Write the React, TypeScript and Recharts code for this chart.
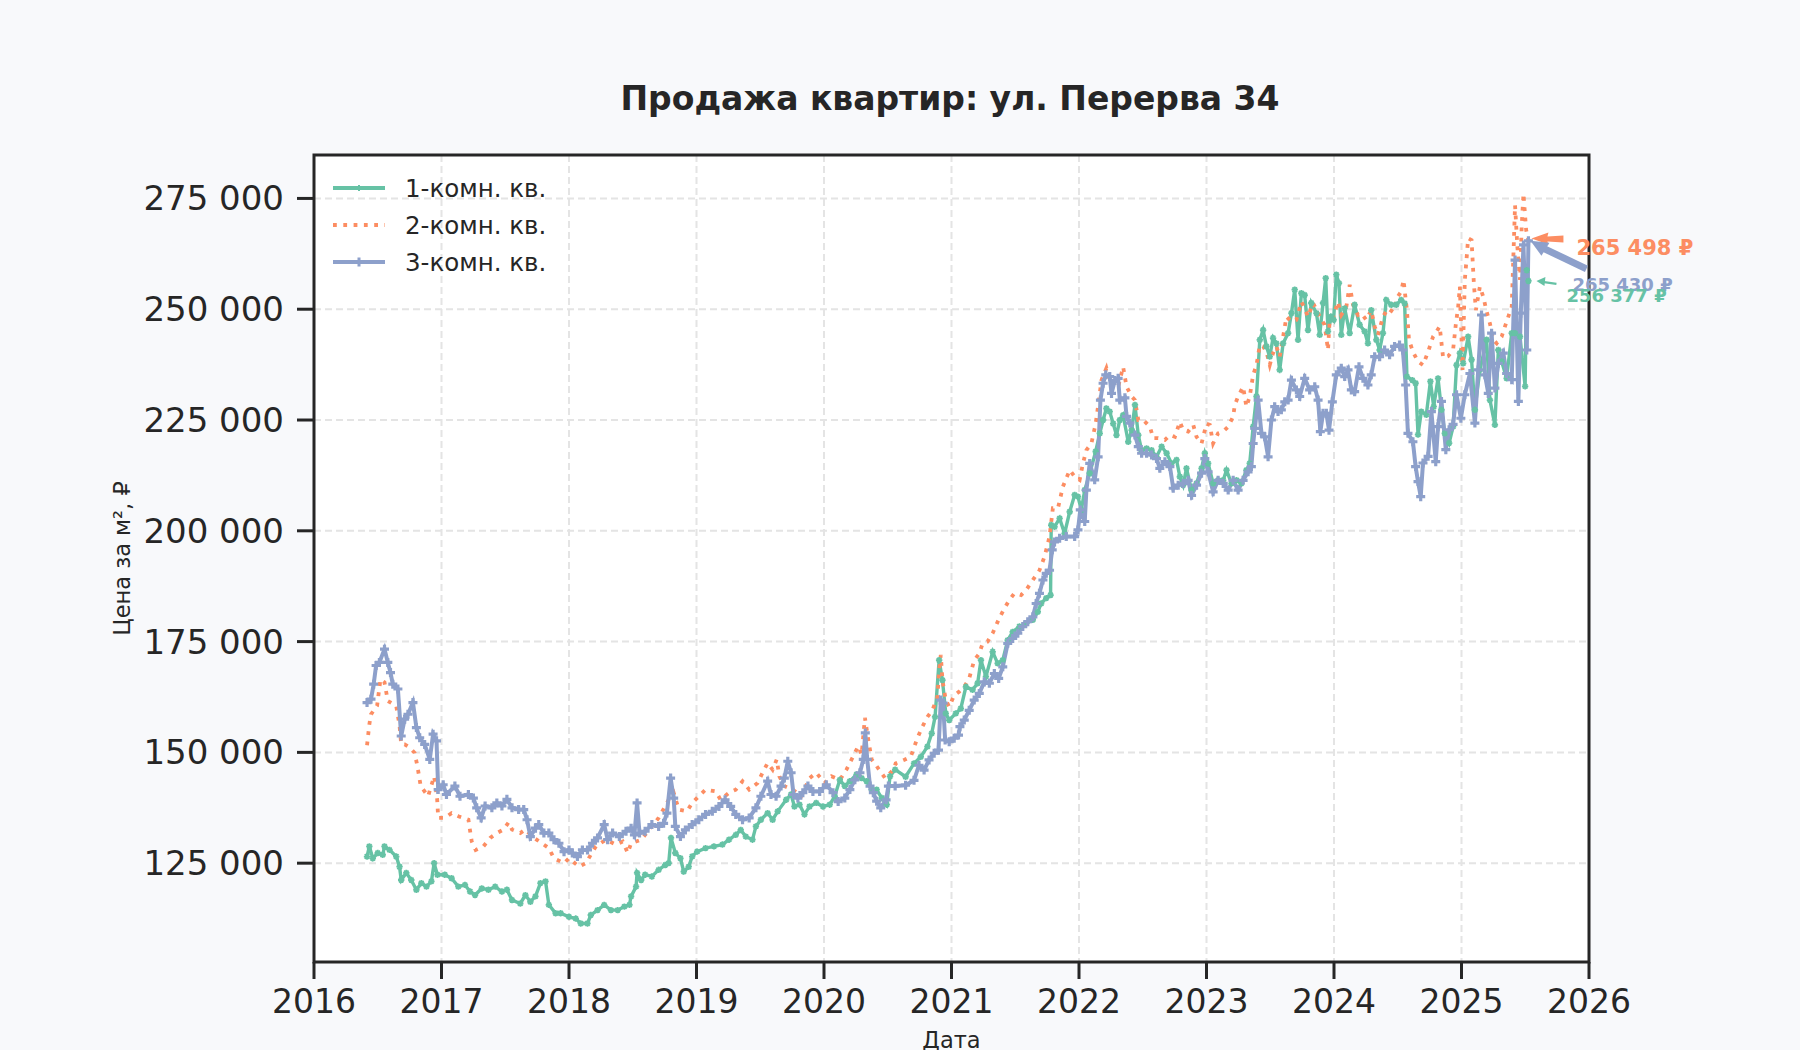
import React from 'react';
import { LineChart, Line, XAxis, YAxis, CartesianGrid, ReferenceArea, ReferenceDot } from 'recharts';

const chartTitle = 'Продажа квартир: ул. Перерва 34';
const xAxisTitle = 'Дата';
const yAxisTitle = 'Цена за м², ₽';
const seriesNames = ['1-комн. кв.', '2-комн. кв.', '3-комн. кв.'];
const seriesColors = ['#66c2a5', '#fc8d62', '#8da0cb'];
const yearTicks = [2016, 2017, 2018, 2019, 2020, 2021, 2022, 2023, 2024, 2025, 2026];
const priceTicks = [125000, 150000, 175000, 200000, 225000, 250000, 275000];
const xDomain = [2016, 2026];
const yDomain = [102700, 284800];

// 1-комн. кв.
const oneRoomDates = [
  2016.416, 2016.434, 2016.461, 2016.5, 2016.539, 2016.553, 2016.592, 2016.645, 2016.671, 2016.684,
  2016.724, 2016.763, 2016.803, 2016.842, 2016.882, 2016.921, 2016.942, 2016.968, 2017.026, 2017.079,
  2017.132, 2017.184, 2017.224, 2017.263, 2017.316, 2017.368, 2017.421, 2017.474, 2017.513, 2017.553,
  2017.618, 2017.658, 2017.697, 2017.737, 2017.776, 2017.816, 2017.842, 2017.895, 2017.934, 2018.0,
  2018.053, 2018.092, 2018.145, 2018.171, 2018.224, 2018.276, 2018.329, 2018.382, 2018.434, 2018.474,
  2018.487, 2018.526, 2018.534, 2018.566, 2018.597, 2018.65, 2018.703, 2018.755, 2018.782, 2018.8,
  2018.834, 2018.874, 2018.9, 2018.939, 2018.966, 2019.005, 2019.071, 2019.137, 2019.203, 2019.255,
  2019.308, 2019.347, 2019.387, 2019.439, 2019.466, 2019.505, 2019.558, 2019.597, 2019.637, 2019.703,
  2019.742, 2019.768, 2019.808, 2019.847, 2019.887, 2019.939, 2019.992, 2020.045, 2020.084, 2020.124,
  2020.163, 2020.203, 2020.255, 2020.295, 2020.334, 2020.374, 2020.413, 2020.453, 2020.492, 2020.518,
  2020.558, 2020.64, 2020.706, 2020.759, 2020.811, 2020.845, 2020.871, 2020.903, 2020.929, 2020.955,
  2020.982, 2021.034, 2021.073, 2021.113, 2021.165, 2021.205, 2021.231, 2021.27, 2021.323, 2021.362,
  2021.402, 2021.441, 2021.48, 2021.533, 2021.585, 2021.638, 2021.677, 2021.703, 2021.743, 2021.777,
  2021.782, 2021.808, 2021.848, 2021.887, 2021.927, 2021.966, 2021.992, 2022.018, 2022.045, 2022.084,
  2022.131, 2022.163, 2022.189, 2022.215, 2022.241, 2022.268, 2022.294, 2022.32, 2022.346, 2022.386,
  2022.413, 2022.439, 2022.465, 2022.491, 2022.53, 2022.569, 2022.608, 2022.648, 2022.687, 2022.726,
  2022.765, 2022.791, 2022.817, 2022.843, 2022.883, 2022.922, 2022.961, 2022.987, 2023.013, 2023.052,
  2023.091, 2023.131, 2023.157, 2023.196, 2023.235, 2023.274, 2023.313, 2023.339, 2023.366, 2023.392,
  2023.418, 2023.444, 2023.47, 2023.496, 2023.522, 2023.548, 2023.574, 2023.601, 2023.64, 2023.666,
  2023.692, 2023.718, 2023.744, 2023.77, 2023.796, 2023.822, 2023.862, 2023.888, 2023.914, 2023.935,
  2023.953, 2023.979, 2023.997, 2024.018, 2024.039, 2024.057, 2024.084, 2024.123, 2024.162, 2024.201,
  2024.24, 2024.266, 2024.292, 2024.332, 2024.358, 2024.384, 2024.41, 2024.449, 2024.488, 2024.527,
  2024.554, 2024.572, 2024.614, 2024.64, 2024.659, 2024.685, 2024.724, 2024.756, 2024.782, 2024.816,
  2024.843, 2024.869, 2024.903, 2024.934, 2024.961, 2024.987, 2025.013, 2025.052, 2025.079, 2025.105,
  2025.144, 2025.197, 2025.223, 2025.262, 2025.289, 2025.315, 2025.354, 2025.394, 2025.42, 2025.459,
  2025.499, 2025.512, 2025.525,
];
const oneRoomPrices = [
  126500, 128800, 126100, 127300, 126900, 128800, 128000, 126500, 124200, 121200,
  122800, 121200, 119000, 120500, 119700, 120900, 125000, 122400, 122400, 121600,
  119700, 120100, 118600, 117800, 119300, 119000, 119700, 118600, 119000, 116700,
  115900, 117800, 116300, 117500, 120500, 120900, 115600, 113700, 113700, 112900,
  112500, 111400, 111400, 113300, 114400, 115600, 114400, 114400, 115200, 115600,
  117500, 119700, 122800, 121200, 122400, 122000, 123500, 124600, 125000, 130700,
  127300, 126100, 123100, 124200, 126500, 127600, 128400, 128800, 129200, 130300,
  131400, 132500, 131000, 130300, 133300, 134800, 136300, 134800, 136700, 139300,
  140500, 137800, 138200, 136000, 137800, 138600, 137800, 138200, 140100, 143800,
  142400, 143500, 145000, 144200, 143500, 141600, 141600, 139700, 138200, 144600,
  146100, 144500, 147500, 149000, 151300, 154300, 158000, 170800, 166300, 158800,
  157300, 158800, 159900, 164800, 164100, 165600, 170800, 167100, 172700, 170100,
  170800, 175300, 177200, 178400, 179100, 179900, 181700, 183600, 184800, 185500,
  201300, 200900, 202800, 199400, 204300, 208100, 207700, 204700, 209200, 213000,
  217900, 222000, 225000, 227600, 226900, 224200, 221600, 225000, 226100, 220100,
  222700, 228400, 221600, 218200, 218600, 218200, 216700, 219000, 217500, 215200,
  216000, 212200, 210300, 214100, 209200, 210700, 214100, 217500, 215200, 210700,
  211400, 211400, 213700, 210700, 211400, 210700, 213700, 215200, 223500, 230300,
  243100, 245300, 241600, 239300, 243500, 242300, 236300, 242300, 244600, 249100,
  254400, 243100, 253600, 253200, 245300, 251400, 249100, 244200, 251400, 257000,
  245000, 248300, 247600, 257800, 255900, 244200, 250200, 244600, 251000, 246500,
  245000, 242300, 249800, 243100, 240800, 244600, 252100, 251000, 251000, 252100,
  251300, 234800, 234000, 233300, 221700, 226900, 226200, 233700, 228000, 234400,
  227300, 222000, 219800, 223500, 237400, 240100, 237800, 243800, 238600, 227300,
  236300, 243100, 229500, 223900, 240800, 238200, 234400, 244600, 244600, 243800,
  232600, 258800, 256377,
];

// 2-комн. кв.
const twoRoomDates = [
  2016.416, 2016.434, 2016.447, 2016.495, 2016.521, 2016.553, 2016.579, 2016.645, 2016.671, 2016.684,
  2016.711, 2016.75, 2016.789, 2016.811, 2016.837, 2016.895, 2016.942, 2016.966, 2016.974, 2017.026,
  2017.079, 2017.132, 2017.211, 2017.237, 2017.268, 2017.329, 2017.382, 2017.434, 2017.487, 2017.526,
  2017.553, 2017.618, 2017.658, 2017.711, 2017.842, 2017.882, 2017.961, 2018.0, 2018.079, 2018.132,
  2018.171, 2018.211, 2018.289, 2018.368, 2018.421, 2018.461, 2018.487, 2018.566, 2018.597, 2018.703,
  2018.782, 2018.821, 2018.861, 2018.926, 2018.966, 2019.018, 2019.071, 2019.15, 2019.189, 2019.255,
  2019.308, 2019.361, 2019.413, 2019.479, 2019.518, 2019.558, 2019.597, 2019.629, 2019.65, 2019.689,
  2019.755, 2019.821, 2019.887, 2019.939, 2020.005, 2020.058, 2020.124, 2020.176, 2020.229, 2020.268,
  2020.295, 2020.321, 2020.347, 2020.374, 2020.413, 2020.479, 2020.545, 2020.562, 2020.627, 2020.68,
  2020.732, 2020.772, 2020.811, 2020.85, 2020.89, 2020.903, 2020.916, 2020.929, 2020.955, 2020.982,
  2021.021, 2021.06, 2021.1, 2021.139, 2021.178, 2021.218, 2021.244, 2021.283, 2021.323, 2021.375,
  2021.415, 2021.454, 2021.493, 2021.546, 2021.585, 2021.638, 2021.69, 2021.73, 2021.769, 2021.795,
  2021.835, 2021.874, 2021.927, 2021.966, 2022.005, 2022.031, 2022.058, 2022.097, 2022.131, 2022.163,
  2022.176, 2022.215, 2022.255, 2022.307, 2022.346, 2022.373, 2022.413, 2022.439, 2022.465, 2022.504,
  2022.556, 2022.582, 2022.621, 2022.674, 2022.713, 2022.752, 2022.791, 2022.817, 2022.856, 2022.896,
  2022.922, 2022.961, 2023.0, 2023.026, 2023.052, 2023.091, 2023.131, 2023.17, 2023.209, 2023.222,
  2023.248, 2023.287, 2023.313, 2023.339, 2023.366, 2023.392, 2023.418, 2023.444, 2023.47, 2023.496,
  2023.522, 2023.548, 2023.574, 2023.601, 2023.627, 2023.666, 2023.705, 2023.744, 2023.77, 2023.796,
  2023.836, 2023.875, 2023.901, 2023.927, 2023.953, 2023.966, 2023.992, 2024.031, 2024.057, 2024.097,
  2024.123, 2024.149, 2024.188, 2024.214, 2024.253, 2024.292, 2024.319, 2024.345, 2024.384, 2024.423,
  2024.462, 2024.501, 2024.527, 2024.546, 2024.554, 2024.572, 2024.588, 2024.619, 2024.659, 2024.698,
  2024.738, 2024.777, 2024.803, 2024.829, 2024.856, 2024.895, 2024.934, 2024.955, 2024.974, 2024.987,
  2025.008, 2025.026, 2025.039, 2025.052, 2025.079, 2025.097, 2025.113, 2025.144, 2025.171, 2025.197,
  2025.223, 2025.249, 2025.276, 2025.315, 2025.341, 2025.367, 2025.394, 2025.42, 2025.438, 2025.459,
  2025.472, 2025.486, 2025.507, 2025.525,
];
const twoRoomPrices = [
  151600, 156300, 158600, 160500, 166500, 165800, 161600, 160500, 156000, 151800,
  151800, 151100, 149900, 146900, 142400, 140100, 144600, 139400, 135200, 135200,
  136300, 135600, 134800, 129900, 128000, 128800, 130700, 131800, 132600, 134200,
  132600, 131800, 132600, 131000, 128400, 126100, 125000, 126100, 124200, 125000,
  126900, 128800, 130300, 129200, 129900, 127300, 129500, 130300, 131400, 135200,
  139300, 140900, 137100, 136700, 138600, 140100, 141600, 141200, 139300, 140900,
  141600, 143500, 141600, 143100, 145400, 147600, 146100, 148400, 144600, 142400,
  141600, 140100, 144200, 145400, 143100, 144600, 143800, 146100, 149100, 151400,
  149500, 157800, 152900, 148400, 146900, 144200, 146100, 147500, 148300, 149000,
  153200, 155800, 158000, 159500, 162500, 168600, 172000, 166300, 161800, 160300,
  162900, 163700, 164800, 166700, 170800, 172300, 174600, 175000, 176900, 180300,
  182500, 184400, 185900, 185500, 186600, 188900, 191100, 194200, 198700, 205100,
  205100, 210000, 213700, 212200, 211500, 215200, 218200, 219700, 224200, 231000,
  234000, 236700, 232500, 232500, 237000, 232500, 230300, 229500, 225000, 225000,
  223500, 220900, 220900, 220500, 221600, 221200, 224600, 222700, 222400, 223900,
  221200, 219700, 224200, 223900, 219700, 222000, 222400, 223500, 225800, 228400,
  230300, 232500, 228000, 230300, 235200, 237400, 241900, 241600, 240400, 237400,
  240100, 241600, 239300, 243800, 248300, 247200, 247600, 251700, 250200, 248300,
  251400, 249100, 247600, 246500, 240800, 247600, 248000, 251700, 248700, 250600,
  255500, 251000, 248700, 249100, 247600, 249800, 246100, 244200, 248300, 250200,
  249400, 252900, 254000, 256600, 254300, 249800, 243100, 240400, 238200, 237400,
  240400, 243800, 244900, 246100, 239000, 239400, 240800, 246500, 250600, 255100,
  236300, 256600, 261100, 266000, 265600, 255800, 249800, 255100, 252800, 249500,
  246800, 243100, 242300, 243800, 246100, 248300, 250600, 273500, 264100, 256600,
  268600, 276100, 267900, 265498,
];

// 3-комн. кв.
const threeRoomDates = [
  2016.416, 2016.447, 2016.468, 2016.487, 2016.513, 2016.553, 2016.579, 2016.6, 2016.618, 2016.658,
  2016.684, 2016.711, 2016.737, 2016.776, 2016.803, 2016.829, 2016.868, 2016.908, 2016.934, 2016.961,
  2016.974, 2017.013, 2017.039, 2017.105, 2017.145, 2017.211, 2017.25, 2017.276, 2017.311, 2017.342,
  2017.395, 2017.434, 2017.474, 2017.513, 2017.553, 2017.605, 2017.645, 2017.671, 2017.697, 2017.737,
  2017.763, 2017.803, 2017.842, 2017.882, 2017.921, 2017.961, 2018.0, 2018.026, 2018.066, 2018.105,
  2018.145, 2018.184, 2018.224, 2018.276, 2018.303, 2018.342, 2018.395, 2018.447, 2018.487, 2018.513,
  2018.534, 2018.553, 2018.597, 2018.65, 2018.703, 2018.742, 2018.768, 2018.797, 2018.821, 2018.834,
  2018.874, 2018.913, 2018.966, 2019.018, 2019.071, 2019.124, 2019.176, 2019.224, 2019.268, 2019.308,
  2019.361, 2019.413, 2019.466, 2019.505, 2019.558, 2019.584, 2019.624, 2019.663, 2019.689, 2019.716,
  2019.742, 2019.761, 2019.795, 2019.834, 2019.874, 2019.913, 2019.966, 2020.018, 2020.071, 2020.111,
  2020.163, 2020.203, 2020.242, 2020.282, 2020.308, 2020.324, 2020.339, 2020.361, 2020.387, 2020.413,
  2020.445, 2020.487, 2020.505, 2020.558, 2020.64, 2020.706, 2020.745, 2020.785, 2020.824, 2020.864,
  2020.898, 2020.916, 2020.934, 2020.95, 2020.982, 2021.021, 2021.055, 2021.066, 2021.1, 2021.139,
  2021.178, 2021.218, 2021.257, 2021.297, 2021.336, 2021.37, 2021.402, 2021.441, 2021.48, 2021.52,
  2021.559, 2021.598, 2021.638, 2021.664, 2021.69, 2021.717, 2021.743, 2021.769, 2021.79, 2021.808,
  2021.848, 2021.9, 2021.966, 2021.992, 2022.01, 2022.045, 2022.058, 2022.084, 2022.123, 2022.15,
  2022.168, 2022.189, 2022.21, 2022.241, 2022.255, 2022.281, 2022.307, 2022.32, 2022.36, 2022.373,
  2022.399, 2022.439, 2022.465, 2022.491, 2022.53, 2022.569, 2022.608, 2022.634, 2022.674, 2022.713,
  2022.739, 2022.778, 2022.817, 2022.856, 2022.883, 2022.922, 2022.961, 2022.987, 2023.013, 2023.052,
  2023.091, 2023.131, 2023.17, 2023.209, 2023.248, 2023.287, 2023.326, 2023.352, 2023.366, 2023.379,
  2023.405, 2023.431, 2023.457, 2023.483, 2023.509, 2023.535, 2023.561, 2023.587, 2023.614, 2023.64,
  2023.666, 2023.705, 2023.731, 2023.77, 2023.809, 2023.849, 2023.875, 2023.893, 2023.914, 2023.94,
  2023.961, 2023.987, 2024.018, 2024.057, 2024.084, 2024.11, 2024.136, 2024.162, 2024.196, 2024.227,
  2024.266, 2024.292, 2024.319, 2024.358, 2024.397, 2024.436, 2024.475, 2024.514, 2024.54, 2024.562,
  2024.58, 2024.619, 2024.64, 2024.659, 2024.68, 2024.698, 2024.738, 2024.764, 2024.798, 2024.816,
  2024.843, 2024.877, 2024.903, 2024.934, 2024.961, 2024.995, 2025.026, 2025.066, 2025.105, 2025.131,
  2025.157, 2025.184, 2025.21, 2025.236, 2025.262, 2025.289, 2025.328, 2025.354, 2025.394, 2025.42,
  2025.446, 2025.465, 2025.486, 2025.512, 2025.525,
];
const threeRoomPrices = [
  161250, 162000, 165400, 169600, 170300, 173300, 170300, 168000, 165400, 164300,
  153700, 157500, 158600, 161250, 155600, 153300, 151800, 148400, 154100, 152600,
  141600, 142700, 140500, 142400, 140100, 140500, 139700, 137500, 135200, 137900,
  137500, 138600, 137900, 139400, 137500, 137100, 137100, 134800, 131000, 132900,
  133700, 131800, 131800, 130300, 129500, 127600, 128000, 127300, 126500, 128000,
  128000, 129500, 130700, 133700, 130300, 131800, 131000, 132200, 132900, 131400,
  138600, 131800, 132200, 133700, 133300, 134000, 136300, 144200, 139700, 133300,
  131000, 132500, 133700, 134800, 136000, 136700, 137800, 139300, 137800, 136000,
  134800, 135200, 137500, 140100, 143500, 140500, 140100, 142400, 144200, 148000,
  145400, 140500, 139700, 140900, 142400, 141200, 141200, 142700, 140900, 138900,
  139700, 141600, 143800, 145400, 148400, 154400, 148400, 142400, 140900, 139000,
  137500, 139300, 142400, 142400, 142600, 143700, 147100, 146000, 148300, 149800,
  150500, 161800, 161100, 152800, 152400, 153200, 153900, 155800, 157300, 159500,
  161800, 163300, 165900, 165600, 167800, 166700, 169300, 174600, 175700, 176900,
  178400, 179500, 180600, 183600, 185900, 188900, 190400, 191100, 195700, 197500,
  198300, 198700, 198700, 200200, 204700, 202100, 209200, 215200, 211500, 216700,
  229500, 233300, 235200, 234800, 231000, 233900, 234400, 229500, 230000, 225800,
  224300, 221600, 219000, 217500, 217500, 217100, 216300, 214100, 215600, 214500,
  209600, 210300, 210700, 211400, 208000, 210300, 213000, 216300, 213300, 208800,
  211400, 210700, 209200, 211400, 209200, 211400, 213300, 214500, 219700, 223100,
  229500, 222000, 221200, 216700, 225000, 228000, 226900, 227300, 229100, 229500,
  234000, 231800, 230300, 234400, 231800, 232500, 229500, 222400, 226500, 226500,
  222700, 229100, 235200, 236700, 234800, 236300, 231800, 231400, 237000, 234400,
  232900, 235200, 239300, 239300, 240800, 239700, 241600, 241900, 240800, 232900,
  222000, 220100, 214500, 211100, 207700, 215300, 216800, 226900, 215600, 223500,
  229200, 218300, 222800, 224000, 230700, 225400, 230700, 235500, 224300, 236300,
  248700, 235200, 231000, 244600, 232200, 237800, 240100, 235500, 234100, 261100,
  229200, 249100, 264500, 240800, 265430,
];

const toRows = (dates: number[], prices: number[]) => dates.map((d, i) => ({ x: d, y: prices[i] }));
const oneRoomRows = toRows(oneRoomDates, oneRoomPrices);
const twoRoomRows = toRows(twoRoomDates, twoRoomPrices);
const threeRoomRows = toRows(threeRoomDates, threeRoomPrices);

const formatPrice = (v: number) => String(Math.round(v)).replace(/\B(?=(\d{3})+(?!\d))/g, ' ');
const lastOf = (arr: number[]) => arr[arr.length - 1];

const FONT = 'DejaVu Sans, Verdana, sans-serif';
const TEXT = '#262626';

const greenDot = (props: any) => {
  const { cx, cy, index } = props;
  if (cx == null || cy == null) return <g key={`g${index}`} />;
  return (
    <path
      key={`g${index}`}
      d={`M${cx - 3.2},${cy}L${cx + 3.2},${cy}M${cx},${cy - 3.2}L${cx},${cy + 3.2}M${cx - 2.3},${cy - 2.3}L${cx + 2.3},${cy + 2.3}M${cx - 2.3},${cy + 2.3}L${cx + 2.3},${cy - 2.3}`}
      stroke={seriesColors[0]}
      strokeWidth={1.8}
      fill="none"
    />
  );
};

const blueDot = (props: any) => {
  const { cx, cy, index } = props;
  if (cx == null || cy == null) return <g key={`b${index}`} />;
  return (
    <path
      key={`b${index}`}
      d={`M${cx - 4.5},${cy}L${cx + 4.5},${cy}M${cx},${cy - 4.5}L${cx},${cy + 4.5}`}
      stroke={seriesColors[2]}
      strokeWidth={3.2}
      fill="none"
    />
  );
};

const OrangeNote = (props: any) => {
  const { cx, cy } = props;
  const c = seriesColors[1];
  return (
    <g>
      <polygon
        points={`${cx + 3},${cy - 2} ${cx + 20},${cy - 8} ${cx + 19},${cy - 4} ${cx + 35},${cy - 5} ${cx + 35},${cy + 2} ${cx + 19},${cy + 1} ${cx + 20},${cy + 4}`}
        fill={c}
      />
      <text x={cx + 48} y={cy + 14} fill={c} fontSize={21} fontWeight="bold" fontFamily={FONT}>
        {formatPrice(lastOf(twoRoomPrices))} ₽
      </text>
    </g>
  );
};

const BlueNote = (props: any) => {
  const { cx, cy } = props;
  const c = seriesColors[2];
  return (
    <g>
      <line x1={cx + 14} y1={cy + 7} x2={cx + 58} y2={cy + 28} stroke={c} strokeWidth={7} />
      <polygon points={`${cx + 2},${cy} ${cx + 21},${cy + 2} ${cx + 13},${cy + 15}`} fill={c} />
      <text x={cx + 44} y={cy + 50} fill={c} fontSize={18} fontWeight="bold" fontFamily={FONT}>
        {formatPrice(lastOf(threeRoomPrices))} ₽
      </text>
    </g>
  );
};

const GreenNote = (props: any) => {
  const { cx, cy } = props;
  const c = seriesColors[0];
  return (
    <g>
      <line x1={cx + 14} y1={cy + 1} x2={cx + 28} y2={cy + 3} stroke={c} strokeWidth={2.2} />
      <polygon points={`${cx + 8},${cy} ${cx + 17},${cy - 4} ${cx + 16},${cy + 5}`} fill={c} />
      <text x={cx + 38} y={cy + 21} fill={c} fontSize={18} fontWeight="bold" fontFamily={FONT}>
        {formatPrice(lastOf(oneRoomPrices))} ₽
      </text>
    </g>
  );
};

const YLabel = (props: any) => {
  const vb = props.viewBox || { x: 0, y: 155, width: 314, height: 807 };
  const x = vb.x + 122;
  const y = vb.y + vb.height / 2;
  return (
    <text x={x} y={y} transform={`rotate(-90 ${x} ${y})`} textAnchor="middle" dominantBaseline="central" fontSize={22.5} fill={TEXT} fontFamily={FONT}>
      {yAxisTitle}
    </text>
  );
};

const XLabel = (props: any) => {
  const vb = props.viewBox || { x: 314, y: 962, width: 1275, height: 88 };
  return (
    <text x={vb.x + vb.width / 2} y={vb.y + 86} textAnchor="middle" fontSize={22.5} fill={TEXT} fontFamily={FONT}>
      {xAxisTitle}
    </text>
  );
};

const LegendOverlay = () => {
  const rows = [188, 225, 262];
  const x1 = 333;
  const x2 = 385;
  const mx = (x1 + x2) / 2;
  return (
    <g>
      {seriesNames.map((name, i) => {
        const y = rows[i];
        const color = seriesColors[i];
        return (
          <g key={name}>
            {i === 1 ? (
              <line x1={x1} y1={y} x2={x2} y2={y} stroke={color} strokeWidth={3.8} strokeDasharray="3.8 6.5" />
            ) : (
              <line x1={x1} y1={y} x2={x2} y2={y} stroke={color} strokeWidth={4.2} />
            )}
            {i === 0 && <path d={`M${mx - 3},${y}L${mx + 3},${y}M${mx},${y - 3}L${mx},${y + 3}`} stroke={color} strokeWidth={2} />}
            {i === 2 && <path d={`M${mx - 4.5},${y}L${mx + 4.5},${y}M${mx},${y - 4.5}L${mx},${y + 4.5}`} stroke={color} strokeWidth={3} />}
            <text x={405} y={y + 9} fontSize={24.5} fill={TEXT} fontFamily={FONT}>
              {name}
            </text>
          </g>
        );
      })}
    </g>
  );
};

export default function App() {
  return (
    <div
      style={{
        position: 'fixed',
        left: 0,
        top: 0,
        width: 1800,
        height: 1050,
        background: '#f8f9fb',
        fontFamily: FONT,
        overflow: 'hidden',
      }}
    >
      <LineChart width={1800} height={1050} margin={{ top: 155, right: 211, bottom: 0, left: 0 }}>
        <CartesianGrid stroke="#e4e4e4" strokeWidth={2} strokeDasharray="7 4" fill="#ffffff" />
        <XAxis
          dataKey="x"
          type="number"
          domain={xDomain}
          ticks={yearTicks}
          interval={0}
          allowDataOverflow
          height={88}
          axisLine={false}
          tickSize={17}
          tickMargin={11}
          tickLine={{ stroke: TEXT, strokeWidth: 3 }}
          tick={{ fontSize: 33, fill: TEXT, fontFamily: FONT }}
          label={<XLabel />}
        />
        <YAxis
          type="number"
          domain={yDomain}
          ticks={priceTicks}
          interval={0}
          allowDataOverflow
          width={314}
          axisLine={false}
          tickSize={17}
          tickMargin={13}
          tickLine={{ stroke: TEXT, strokeWidth: 3 }}
          tick={{ fontSize: 34, fill: TEXT, fontFamily: FONT }}
          tickFormatter={formatPrice}
          label={<YLabel />}
        />
        <Line
          data={oneRoomRows}
          dataKey="y"
          name={seriesNames[0]}
          stroke={seriesColors[0]}
          strokeWidth={3.4}
          dot={greenDot}
          activeDot={false}
          isAnimationActive={false}
        />
        <Line
          data={twoRoomRows}
          dataKey="y"
          name={seriesNames[1]}
          stroke={seriesColors[1]}
          strokeWidth={3.8}
          strokeDasharray="3.8 6.5"
          dot={false}
          activeDot={false}
          isAnimationActive={false}
        />
        <Line
          data={threeRoomRows}
          dataKey="y"
          name={seriesNames[2]}
          stroke={seriesColors[2]}
          strokeWidth={4}
          dot={blueDot}
          activeDot={false}
          isAnimationActive={false}
        />
        <ReferenceArea
          x1={xDomain[0]}
          x2={xDomain[1]}
          y1={yDomain[0]}
          y2={yDomain[1]}
          fill="none"
          stroke={TEXT}
          strokeWidth={3}
          ifOverflow="visible"
        />
        <ReferenceDot x={lastOf(twoRoomDates)} y={lastOf(twoRoomPrices)} ifOverflow="visible" shape={OrangeNote} />
        <ReferenceDot x={lastOf(threeRoomDates)} y={lastOf(threeRoomPrices)} ifOverflow="visible" shape={BlueNote} />
        <ReferenceDot x={lastOf(oneRoomDates)} y={lastOf(oneRoomPrices)} ifOverflow="visible" shape={GreenNote} />
      </LineChart>
      <svg
        width={1800}
        height={1050}
        style={{ position: 'absolute', left: 0, top: 0, pointerEvents: 'none' }}
      >
        <text x={950} y={110} textAnchor="middle" fontSize={33} fontWeight="bold" fill={TEXT} fontFamily={FONT}>
          {chartTitle}
        </text>
        <LegendOverlay />
      </svg>
    </div>
  );
}
